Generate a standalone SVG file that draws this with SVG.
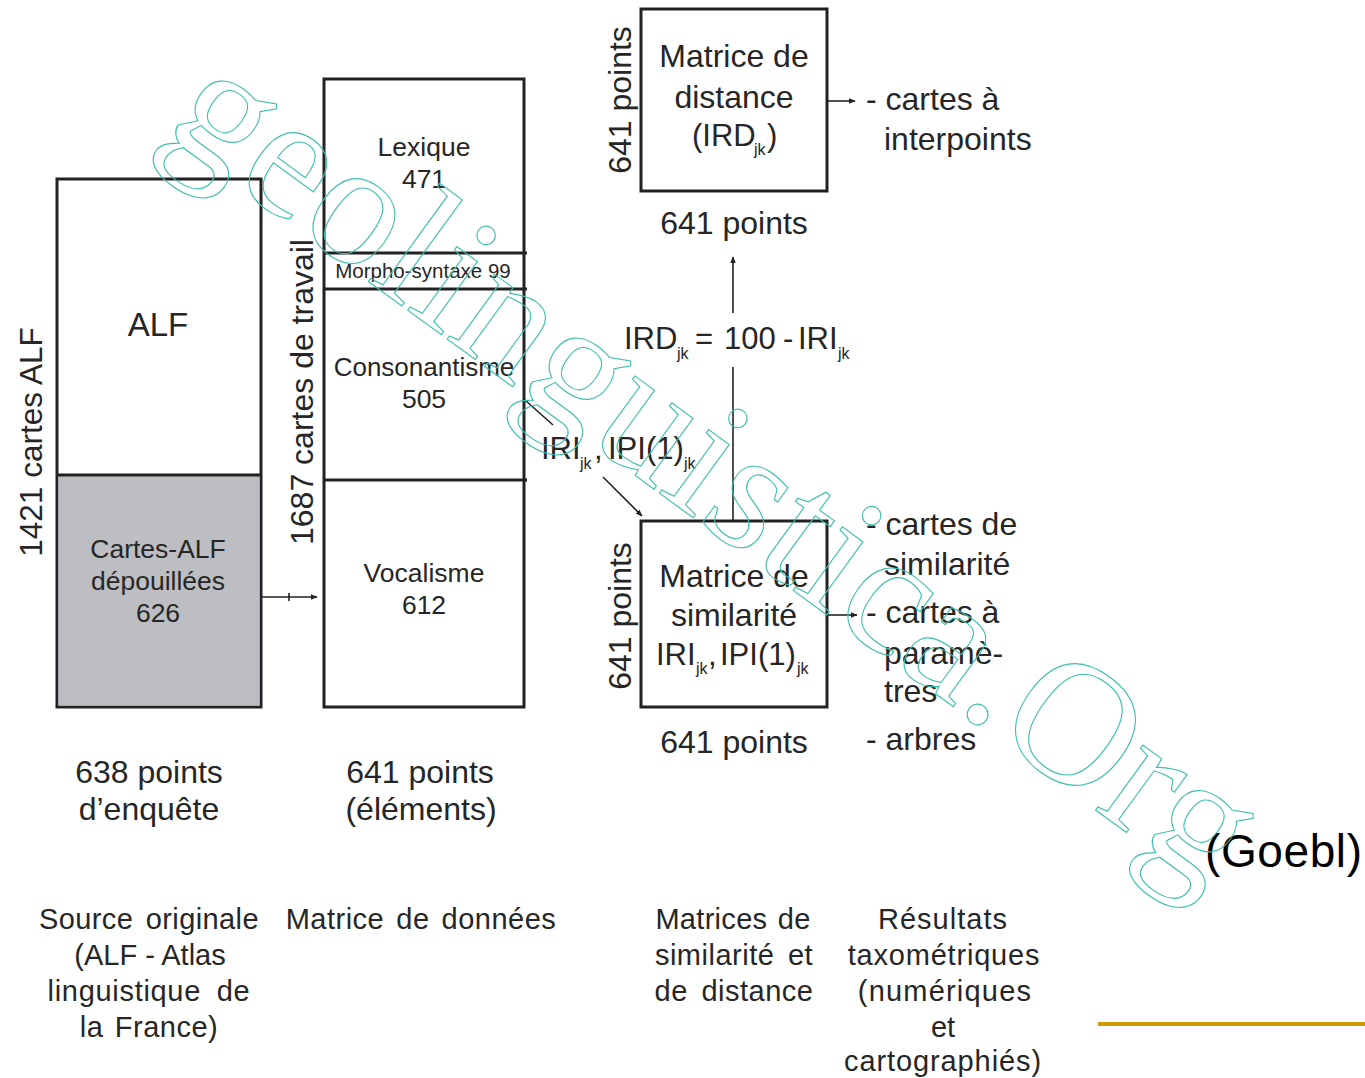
<svg xmlns="http://www.w3.org/2000/svg" width="1365" height="1078" viewBox="0 0 1365 1078">
<defs>
<style>
.t{font-family:"Liberation Sans",Arial,sans-serif;fill:#262626;font-size:32px}
.f{font-size:31px}
.m{font-size:26.5px}
.b{font-size:29px}
.s{font-size:16px}
.c{text-anchor:middle}
.box{fill:#fff;stroke:#222;stroke-width:3}
.div{stroke:#222;stroke-width:3}
.arr{stroke:#222;stroke-width:1.6;fill:none}
.wm{font-family:"Liberation Serif","Times New Roman",serif;font-size:175px;fill:none;stroke:#3dbfad;stroke-width:1.1}
</style>
<marker id="ah" viewBox="0 0 10 10" refX="9" refY="5" markerWidth="7" markerHeight="7" markerUnits="userSpaceOnUse" orient="auto">
<path d="M0,1 L10,5 L0,9 Z" fill="#222"/>
</marker>
</defs>
<rect width="1365" height="1078" fill="#fff"/>

<g id="alf">
<rect class="box" x="57" y="179" width="204" height="528"/>
<rect x="58.5" y="475" width="201" height="230.5" fill="#bdbec1"/>
<line class="div" x1="57" y1="475" x2="261" y2="475"/>
<text class="t c" x="158" y="336" style="font-size:33px">ALF</text>
<text class="t m c" x="158" y="558">Cartes-ALF</text>
<text class="t m c" x="158" y="590">dépouillées</text>
<text class="t m c" x="158" y="622">626</text>
<text class="t" transform="translate(42,442) rotate(-90)" text-anchor="middle" style="font-size:31.5px">1421 cartes ALF</text>
</g>

<g id="matrice-donnees">
<rect class="box" x="324" y="79" width="200" height="628"/>
<line class="div" x1="324" y1="253" x2="527" y2="253"/>
<line class="div" x1="324" y1="289" x2="527" y2="289"/>
<line class="div" x1="324" y1="480" x2="527" y2="480"/>
<text class="t m c" x="424" y="156">Lexique</text>
<text class="t m c" x="424" y="188">471</text>
<text class="t c" x="423" y="278" style="font-size:20.5px">Morpho-syntaxe 99</text>
<text class="t m c" x="424" y="376" style="font-size:26px">Consonantisme</text>
<text class="t m c" x="424" y="408">505</text>
<text class="t m c" x="424" y="582">Vocalisme</text>
<text class="t m c" x="424" y="614">612</text>
<text class="t" transform="translate(313,392) rotate(-90)" text-anchor="middle">1687 cartes de travail</text>
</g>

<g id="matrice-distance">
<rect class="box" x="641" y="9" width="186" height="182"/>
<text class="t c" x="734" y="67">Matrice de</text>
<text class="t c" x="734" y="108">distance</text>
<text class="t f" x="692" y="146">(IRD</text>
<text class="t s" x="754" y="155">jk</text>
<text class="t f" x="767" y="146">)</text>
<text class="t" transform="translate(631,100) rotate(-90)" text-anchor="middle">641 points</text>
<text class="t c" x="734" y="234">641 points</text>
</g>

<g id="matrice-similarite">
<rect class="box" x="641" y="521" width="186" height="186"/>
<text class="t c" x="734" y="587">Matrice de</text>
<text class="t c" x="734" y="626">similarité</text>
<text class="t f" x="656" y="665">IRI</text>
<text class="t s" x="696" y="674">jk</text>
<text class="t f" x="708" y="665">,</text>
<text class="t f" x="720" y="665">IPI(1)</text>
<text class="t s" x="797" y="674">jk</text>
<text class="t" transform="translate(631,616) rotate(-90)" text-anchor="middle">641 points</text>
<text class="t c" x="734" y="753">641 points</text>
</g>

<g id="resultats-distance">
<text class="t" x="866" y="110">- cartes à</text>
<text class="t" x="884" y="150">interpoints</text>
</g>

<g id="resultats-similarite">
<text class="t" x="866" y="535">- cartes de</text>
<text class="t" x="884" y="575">similarité</text>
<text class="t" x="866" y="623">- cartes à</text>
<text class="t" x="884" y="664">paramè-</text>
<text class="t" x="884" y="702">tres</text>
<text class="t" x="866" y="750">- arbres</text>
</g>

<g id="connectors">
<line class="arr" x1="261" y1="597" x2="317" y2="597" marker-end="url(#ah)"/>
<line class="arr" x1="289" y1="593" x2="289" y2="601"/>
<line class="arr" x1="525" y1="400" x2="553" y2="425"/>
<line class="arr" x1="603" y1="477" x2="642" y2="516" marker-end="url(#ah)"/>
<line class="arr" x1="733" y1="521" x2="733" y2="367"/>
<line class="arr" x1="733" y1="313" x2="733" y2="257" marker-end="url(#ah)"/>
<line class="arr" x1="827" y1="101" x2="855" y2="101" marker-end="url(#ah)"/>
<line class="arr" x1="827" y1="615" x2="857" y2="615" marker-end="url(#ah)"/>
<text class="t f" x="624" y="349">IRD</text>
<text class="t s" x="677" y="359">jk</text>
<text class="t f" x="695" y="349">=</text>
<text class="t f" x="724" y="349">100</text>
<text class="t f" x="783" y="349">-</text>
<text class="t f" x="798" y="349">IRI</text>
<text class="t s" x="838" y="359">jk</text>
<text class="t f" x="541" y="459">IRI</text>
<text class="t s" x="580" y="469">jk</text>
<text class="t f" x="594" y="459">,</text>
<text class="t f" x="608" y="459">IPI(1)</text>
<text class="t s" x="684" y="469">jk</text>
</g>

<g id="footer-labels">
<text class="t c" x="149" y="783">638 points</text>
<text class="t c" x="149" y="820">d’enquête</text>
<text class="t c" x="420" y="783">641 points</text>
<text class="t c" x="421" y="820">(éléments)</text>
<text class="t b c" x="149" y="929" letter-spacing="0.4" word-spacing="4">Source originale</text>
<text class="t b c" x="150" y="965">(ALF - Atlas</text>
<text class="t b c" x="149" y="1001" letter-spacing="0.7" word-spacing="7">linguistique de</text>
<text class="t b c" x="149" y="1037" letter-spacing="0.5" word-spacing="3">la France)</text>
<text class="t b c" x="421" y="929" letter-spacing="0.5" word-spacing="3.5">Matrice de données</text>
<text class="t b c" x="733" y="929" letter-spacing="0.3" word-spacing="2">Matrices de</text>
<text class="t b c" x="734" y="965" letter-spacing="0.5" word-spacing="5">similarité et</text>
<text class="t b c" x="734" y="1001" letter-spacing="0.5" word-spacing="5">de distance</text>
<text class="t b c" x="943" y="929" letter-spacing="1">Résultats</text>
<text class="t b c" x="944" y="965" letter-spacing="0.8">taxométriques</text>
<text class="t b c" x="945" y="1001" letter-spacing="1.2">(numériques</text>
<text class="t b c" x="943" y="1037">et</text>
<text class="t b c" x="943" y="1071" letter-spacing="0.9">cartographiés)</text>
<text x="1205" y="867" font-family="Liberation Sans, Arial, sans-serif" font-size="46" fill="#000" textLength="157">(Goebl)</text>
<line x1="1098" y1="1024" x2="1365" y2="1024" stroke="#cc9a00" stroke-width="4"/>
</g>

<text class="wm" transform="translate(161,131) rotate(36)">geolinguistica.Org</text>
</svg>
